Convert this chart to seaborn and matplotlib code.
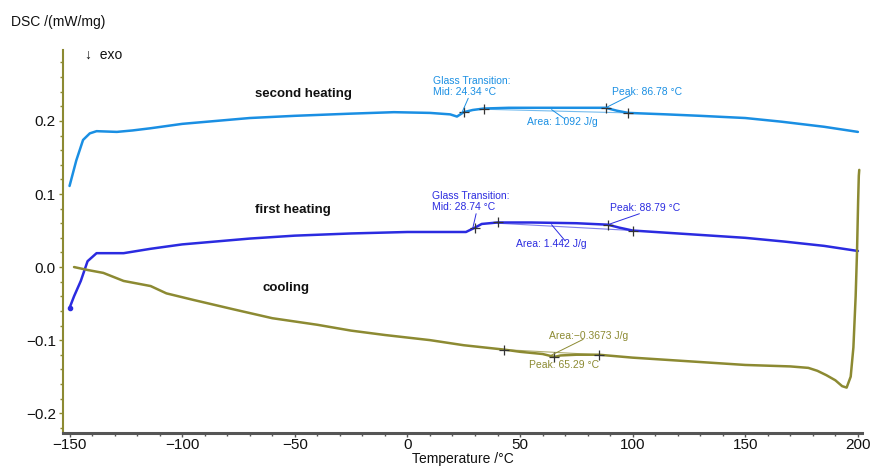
import numpy as np
import pandas as pd
import matplotlib
matplotlib.use("Agg")
import matplotlib.pyplot as plt
from matplotlib.ticker import MultipleLocator
import seaborn as sns

# second heating curve
t_second = [-150, -147, -144, -141, -138, -129, -122, -114, -100, -85, -70, -50, -25,
            -6, 10, 19, 22, 25, 29, 34, 45, 60, 75, 88, 93, 98, 115, 130, 150, 166, 185, 200]
dsc_second = [0.111, 0.146, 0.174, 0.183, 0.186, 0.185, 0.187, 0.190, 0.196, 0.200, 0.204,
              0.207, 0.210, 0.212, 0.211, 0.209, 0.206, 0.212, 0.215, 0.217, 0.218, 0.218,
              0.218, 0.218, 0.214, 0.211, 0.209, 0.207, 0.204, 0.199, 0.192, 0.185]

# first heating curve
t_first = [-150, -148, -145, -142, -138, -133, -126, -120, -114, -100, -85, -70, -50, -25,
           0, 10, 20, 26, 30, 33, 40, 55, 75, 89, 94, 100, 115, 130, 150, 167, 185, 200]
dsc_first = [-0.056, -0.040, -0.019, 0.008, 0.019, 0.019, 0.019, 0.022, 0.025, 0.031, 0.035,
             0.039, 0.043, 0.046, 0.048, 0.048, 0.048, 0.048, 0.054, 0.059, 0.061, 0.061,
             0.060, 0.058, 0.054, 0.050, 0.047, 0.044, 0.040, 0.035, 0.029, 0.022]

# cooling curve (recorded from 200 down to -150)
t_cool = [200.6, 200.4, 200.1, 199.6, 199.0, 198.0, 196.8, 195.0, 193.0, 190.0, 186.0, 182.0,
          178.0, 170.0, 160.0, 150.0, 130.0, 110.0, 100.0, 85.0, 75.0, 68.0, 65.3, 60.0, 50.0,
          43.0, 25.0, 10.0, -10.0, -25.0, -40.0, -60.0, -77.0, -95.0, -107.0, -114.0, -126.0,
          -135.0, -142.0, -148.0]
dsc_cool = [0.133, 0.125, 0.09, 0.02, -0.04, -0.11, -0.150, -0.165, -0.163, -0.155, -0.148,
            -0.142, -0.138, -0.136, -0.135, -0.134, -0.130, -0.126, -0.124, -0.120, -0.120,
            -0.121, -0.123, -0.119, -0.116, -0.113, -0.107, -0.100, -0.093, -0.087, -0.079,
            -0.070, -0.058, -0.045, -0.036, -0.026, -0.019, -0.008, -0.004, 0.000]

# evaluation markers (+)
mark_second_t = [25, 34, 88, 98]
mark_second_v = [0.212, 0.217, 0.218, 0.211]
mark_first_t = [30, 40, 89, 100]
mark_first_v = [0.054, 0.061, 0.058, 0.050]
mark_cool_t = [43, 65.3, 85]
mark_cool_v = [-0.113, -0.123, -0.120]

c_second = "#1a8fe3"
c_first = "#2b2be0"
c_cool = "#8c8a32"

sns.set_style("white")
plt.rcParams["font.family"] = ["Liberation Sans", "DejaVu Sans"]

fig = plt.figure(figsize=(8.72, 4.68), dpi=100)
ax = fig.add_axes([0.072, 0.075, 0.917, 0.818])

df2 = pd.DataFrame({"T": t_second, "DSC": dsc_second})
df1 = pd.DataFrame({"T": t_first, "DSC": dsc_first})
dfc = pd.DataFrame({"T": t_cool, "DSC": dsc_cool})
sns.lineplot(data=df2, x="T", y="DSC", ax=ax, color=c_second, lw=1.8, sort=False, estimator=None)
sns.lineplot(data=df1, x="T", y="DSC", ax=ax, color=c_first, lw=1.8, sort=False, estimator=None)
sns.lineplot(data=dfc, x="T", y="DSC", ax=ax, color=c_cool, lw=1.8, sort=False, estimator=None)
ax.plot(t_first[0], dsc_first[0], "o", color=c_first, ms=3)

# integration baselines
ax.plot([mark_second_t[1], mark_second_t[3]], [mark_second_v[1] - 0.001, mark_second_v[3]],
        color=c_second, lw=0.8, alpha=0.6)
ax.plot([mark_first_t[1], mark_first_t[3]], [mark_first_v[1] - 0.001, mark_first_v[3]],
        color=c_first, lw=0.8, alpha=0.6)
ax.plot([mark_cool_t[0], mark_cool_t[2]], [mark_cool_v[0], mark_cool_v[2]],
        color=c_cool, lw=0.8, alpha=0.7)

for tt, vv in [(mark_second_t, mark_second_v), (mark_first_t, mark_first_v), (mark_cool_t, mark_cool_v)]:
    ax.plot(tt, vv, "+", color="#333333", ms=7, mew=0.9, ls="none")

fs = 7.5
# second heating annotations
ax.text(11.5, 0.2325, "Glass Transition:\nMid: 24.34 °C", color=c_second, fontsize=fs,
        va="bottom", ha="left", linespacing=1.15)
ax.plot([24, 27], [0.210, 0.231], color=c_second, lw=0.7)
ax.text(91, 0.2395, "Peak: 86.78 °C", color=c_second, fontsize=fs, va="center")
ax.plot([88, 99], [0.218, 0.235], color=c_second, lw=0.7)
ax.text(53, 0.1985, "Area: 1.092 J/g", color=c_second, fontsize=fs, va="center")
ax.plot([64, 70], [0.2155, 0.2025], color=c_second, lw=0.7)

# first heating annotations
ax.text(11, 0.0755, "Glass Transition:\nMid: 28.74 °C", color=c_first, fontsize=fs,
        va="bottom", ha="left", linespacing=1.15)
ax.plot([29, 30.5], [0.053, 0.073], color=c_first, lw=0.7)
ax.text(90, 0.0815, "Peak: 88.79 °C", color=c_first, fontsize=fs, va="center")
ax.plot([89, 103], [0.058, 0.073], color=c_first, lw=0.7)
ax.text(48, 0.0315, "Area: 1.442 J/g", color=c_first, fontsize=fs, va="center")
ax.plot([64, 70], [0.058, 0.036], color=c_first, lw=0.7)

# cooling annotations
ax.text(63, -0.095, "Area:\u22120.3673 J/g", color=c_cool, fontsize=fs, va="center")
ax.plot([63, 78], [-0.122, -0.099], color=c_cool, lw=0.7)
ax.text(54, -0.1335, "Peak: 65.29 °C", color=c_cool, fontsize=fs, va="center")

# curve labels
ax.text(-46, 0.2375, "second heating", fontsize=9.5, fontweight="bold", ha="center", va="center", color="#111111")
ax.text(-51, 0.0775, "first heating", fontsize=9.5, fontweight="bold", ha="center", va="center", color="#111111")
ax.text(-54, -0.0285, "cooling", fontsize=9.5, fontweight="bold", ha="center", va="center", color="#111111")
ax.text(-143, 0.290, "\u2193  exo", fontsize=10, ha="left", va="center", color="#111111")

fig.text(0.013, 0.952, "DSC /(mW/mg)", fontsize=10, color="#111111", va="center")

ax.set_xlim(-153, 202)
ax.set_ylim(-0.227, 0.297)
ax.xaxis.set_major_locator(MultipleLocator(50))
ax.xaxis.set_minor_locator(MultipleLocator(10))
ax.yaxis.set_minor_locator(MultipleLocator(0.02))
ax.set_yticks([-0.2, -0.1, 0.0, 0.1, 0.2])
ax.set_yticklabels(["\u22120.2", "\u22120.1", "0.0", "0.1", "0.2"])
ax.set_xlabel("Temperature /°C", fontsize=10, labelpad=0, color="#111111")
ax.set_ylabel("")

for s in ["top", "right"]:
    ax.spines[s].set_visible(False)
ax.spines["left"].set_color(c_cool)
ax.spines["left"].set_linewidth(1.5)
ax.spines["bottom"].set_color("#555555")
ax.spines["bottom"].set_linewidth(2.2)
ax.tick_params(axis="both", which="major", direction="out", length=3, width=1,
               labelsize=11, labelcolor="#111111", pad=2)
ax.tick_params(axis="both", which="minor", direction="out", length=2, width=1)
ax.tick_params(axis="y", which="both", color=c_cool)
ax.tick_params(axis="x", which="both", color="#555555", pad=1)
ax.tick_params(axis="x", which="both", bottom=True)
ax.tick_params(axis="y", which="both", left=True)

fig.savefig("out.png", dpi=100)
